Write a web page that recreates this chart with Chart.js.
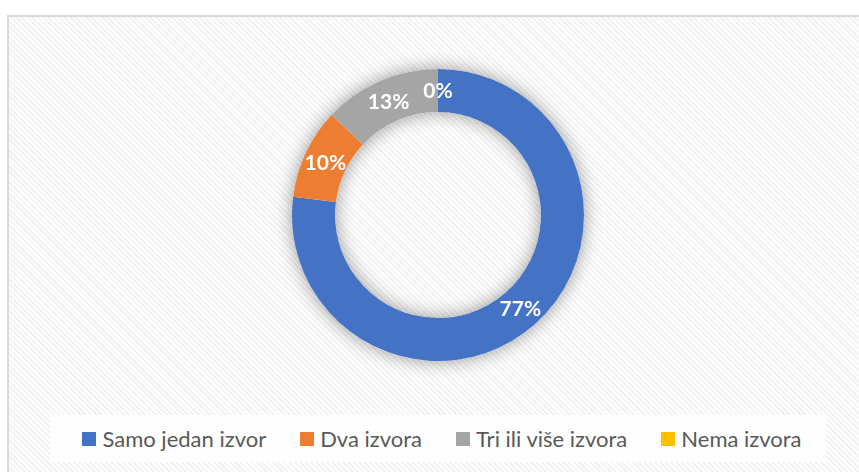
<!DOCTYPE html>
<html>
<head>
<meta charset="utf-8">
<script src="https://cdn.jsdelivr.net/npm/chart.js@4.4.1/dist/chart.umd.min.js"></script>
<style>
  html, body { margin: 0; padding: 0; background: #fff; }
  body { width: 859px; height: 472px; position: relative; overflow: hidden; }
  #frame {
    position: absolute; left: 7px; top: 15px; width: 870px; height: 470px;
    border-left: 2px solid #d9d9d9; border-top: 2px solid #d9d9d9;
    background: repeating-linear-gradient(45deg, #ffffff 0 1.9px, #f2f2f2 1.9px 3.8px);
  }
  #wrap { position: absolute; left: 262px; top: 39px; width: 352px; height: 352px; }
  #legend {
    position: absolute; left: 50px; top: 415px; width: 776px; height: 47px;
    background: rgba(255,255,255,0.82); box-sizing: border-box; padding-left: 8px;
    display: flex; align-items: center; justify-content: center;
    font-family: Lato, sans-serif; font-size: 22px; color: #595959;
  }
  .item { display: flex; align-items: center; margin: 0 17px; }
  .box { width: 14px; height: 14px; margin-right: 6px; }
</style>
</head>
<body>
<div id="frame"></div>
<div id="wrap"><canvas id="chart"></canvas></div>
<div id="legend"></div>
<script>
const categories = ["Samo jedan izvor", "Dva izvora", "Tri ili više izvora", "Nema izvora"];
const values = [77, 10, 13, 0];
const colors = ["#4472c4", "#ed7d31", "#a5a5a5", "#ffc000"];

// soft glow behind the ring, like the office chart
const ringShadow = {
  id: 'ringShadow',
  beforeDatasetsDraw(chart) {
    const arc = chart.getDatasetMeta(0).data[0];
    if (!arc) return;
    const ctx = chart.ctx;
    ctx.save();
    ctx.shadowColor = 'rgba(0,0,0,0.4)';
    ctx.shadowBlur = 18;
    ctx.fillStyle = '#ffffff';
    ctx.beginPath();
    ctx.arc(arc.x, arc.y, arc.outerRadius, 0, Math.PI * 2);
    ctx.arc(arc.x, arc.y, arc.innerRadius, Math.PI * 2, 0, true);
    ctx.closePath();
    ctx.fill();
    ctx.restore();
  }
};

// percent labels in the middle of each slice
const sliceLabels = {
  id: 'sliceLabels',
  afterDatasetsDraw(chart) {
    const ctx = chart.ctx;
    const meta = chart.getDatasetMeta(0);
    const total = values.reduce((a, b) => a + b, 0);
    ctx.save();
    ctx.font = 'bold 21px Lato, sans-serif';
    ctx.fillStyle = '#ffffff';
    ctx.textAlign = 'center';
    ctx.textBaseline = 'middle';
    meta.data.forEach((arc, i) => {
      const mid = (arc.startAngle + arc.endAngle) / 2;
      const r = (arc.innerRadius + arc.outerRadius) / 2;
      const x = arc.x + Math.cos(mid) * r;
      const y = arc.y + Math.sin(mid) * r + 1;
      ctx.fillText(Math.round(values[i] / total * 100) + '%', x, y);
    });
    ctx.restore();
  }
};

new Chart(document.getElementById('chart'), {
  type: 'doughnut',
  data: {
    labels: categories,
    datasets: [{
      data: values,
      backgroundColor: colors,
      borderWidth: 0
    }]
  },
  options: {
    responsive: true,
    maintainAspectRatio: false,
    animation: false,
    cutout: '70.5%',
    layout: { padding: 30 },
    plugins: {
      legend: { display: false },
      tooltip: { enabled: false }
    }
  },
  plugins: [ringShadow, sliceLabels]
});

const legend = document.getElementById('legend');
categories.forEach((c, i) => {
  const item = document.createElement('div');
  item.className = 'item';
  item.innerHTML = '<span class="box" style="background:' + colors[i] + '"></span><span>' + c + '</span>';
  legend.appendChild(item);
});
</script>
</body>
</html>
